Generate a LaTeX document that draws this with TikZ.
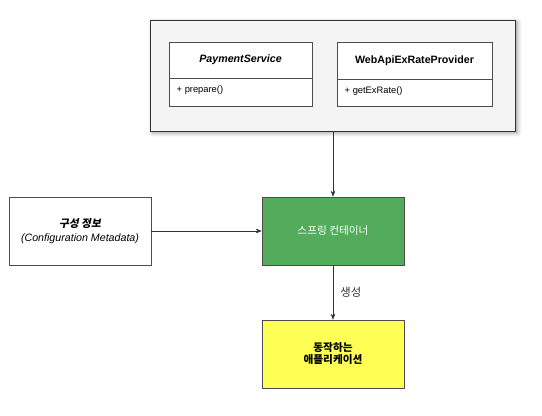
\documentclass[tikz,border=0pt]{standalone}
\usepackage{fontspec}
\setmainfont{Liberation Sans}
\newfontfamily\kor{Noto Sans CJK KR}
\newfontfamily\korslant[FakeSlant=0.2]{Noto Sans CJK KR}
\usetikzlibrary{shadows.blur}
\usetikzlibrary{arrows.meta}
\definecolor{boxgray}{RGB}{244,244,244}
\definecolor{springgreen}{RGB}{82,172,92}
\definecolor{appyellow}{RGB}{255,255,85}

\tikzset{
  every node/.style={font=\fontsize{8}{10}\selectfont},
  classbox/.style={draw=black!70, fill=white, minimum width=107.25pt, minimum height=48pt, inner sep=0pt},
  plainbox/.style={draw=black!70, minimum width=106.5pt, minimum height=51pt, inner sep=0pt, align=center},
  link/.style={-{Stealth[length=4.5pt,width=3.5pt]}, black!80}
}

\begin{document}
\begin{tikzpicture}[x=0.75pt,y=-0.75pt]
        \useasboundingbox (0,0) rectangle (542,416);
        % container of the beans
        \node[draw=black!80, fill=boxgray, blur shadow={shadow xshift=1.5pt, shadow yshift=-1.5pt, shadow blur radius=3pt},
              minimum width=274pt, minimum height=83.25pt, inner sep=0pt] (beans) at (333,75.5) {};
        % the two classes
        \node[classbox] (pay) at (240.5,74) {};
        \draw[black!70] (169,78) -- (312,78);
        \node[font=\fontsize{8}{10}\selectfont\bfseries\itshape] (payname) at (240.5,60) {PaymentService};
        \node[anchor=west] (payop) at (172,90) {\fontsize{7}{9}\selectfont + prepare()};
        \node[classbox, minimum width=116.25pt] (api) at (414.5,74) {};
        \draw[black!70] (337,79) -- (492,79);
        \node[font=\fontsize{8}{10}\selectfont\bfseries] (apiname) at (414.5,61) {WebApiExRateProvider};
        \node[anchor=west] (apiop) at (340,91) {\fontsize{7}{9}\selectfont + getExRate()};
        % configuration, container, application
        \node[plainbox, fill=white] (config) at (80,231) {{\korslant\bfseries 구성 정보}\\[1pt]\itshape (Configuration Metadata)};
        \node[plainbox, fill=springgreen, text=white] (spring) at (333,231) {\kor 스프링 컨테이너};
        \node[plainbox, fill=appyellow] (app) at (333,354) {\kor\bfseries 동작하는\\[-1pt]\kor\bfseries 애플리케이션};
        \draw[link] (beans.south -| spring.north) -- (spring.north);
        \draw[link] (config) -- (spring);
        \draw[link] (spring) -- node[right=2pt, pos=0.5] {\fontsize{8.5}{10}\kor 생성} (app);
\end{tikzpicture}
\end{document}
